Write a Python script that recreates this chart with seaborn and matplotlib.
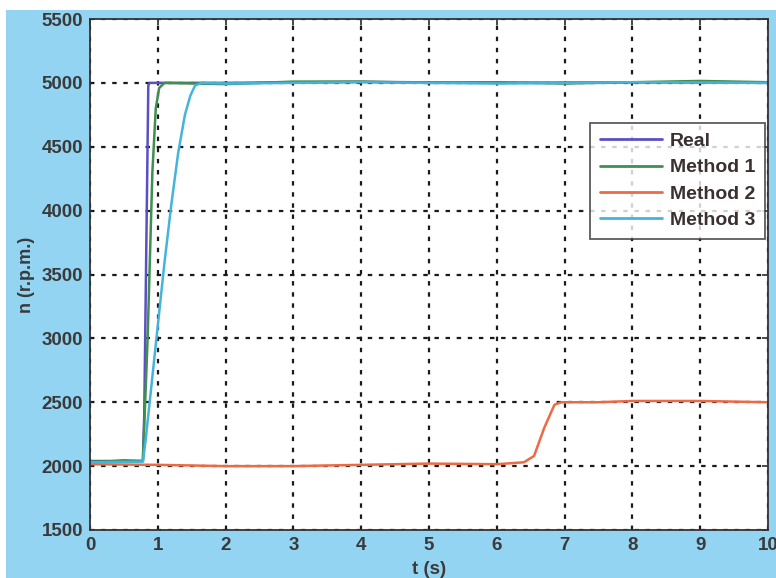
import numpy as np
import pandas as pd
import matplotlib
matplotlib.use("Agg")
import matplotlib.pyplot as plt
import seaborn as sns
from matplotlib.patches import Rectangle

# ---- data ----
t_real = [0, 0.3, 0.5, 0.78, 0.80, 0.86, 0.88, 2, 4, 6, 8, 10]
n_real = [2040, 2040, 2045, 2040, 2400, 4980, 5000, 5000, 5008, 5000, 5005, 5000]

t_m1 = [0, 0.78, 0.85, 0.92, 0.97, 1.02, 1.1, 2, 3, 4, 5, 6, 7, 8, 9, 10]
n_m1 = [2035, 2040, 3000, 4300, 4800, 4960, 5000, 4990, 5010, 5010, 5000, 5005, 4995, 5005, 5015, 5005]

t_m2 = [0, 1, 2, 3, 4, 5, 6, 6.4, 6.55, 6.7, 6.85, 6.95, 7.5, 8, 9, 9.5, 10]
n_m2 = [2015, 2010, 2000, 2000, 2010, 2020, 2015, 2030, 2080, 2300, 2480, 2500, 2500, 2510, 2510, 2505, 2500]

t_m3 = [0, 0.78, 0.82, 0.9, 1.0, 1.1, 1.2, 1.3, 1.4, 1.48, 1.55, 1.65, 2, 4, 6, 8, 10]
n_m3 = [2030, 2035, 2200, 2600, 3100, 3600, 4050, 4450, 4750, 4900, 4980, 5000, 4995, 5005, 4995, 5005, 5000]

series_names = ["Real", "Method 1", "Method 2", "Method 3"]
series_colors = ["#5a4fc4", "#3f8f4f", "#ec6a45", "#45b4dc"]
x_ticks = list(range(0, 11))
y_ticks = list(range(1500, 5501, 500))

frames = []
for name, t, n in zip(series_names, [t_real, t_m1, t_m2, t_m3], [n_real, n_m1, n_m2, n_m3]):
    frames.append(pd.DataFrame({"t": t, "n": n, "series": name}))
df = pd.concat(frames, ignore_index=True)

sns.set_theme(style="white")
plt.rcParams["font.family"] = ["Liberation Sans", "DejaVu Sans"]

bg = "#93d4f2"
fig = plt.figure(figsize=(7.76, 5.78), dpi=100, facecolor=bg)
# white strips at the top and left edges of the scan
fig.patches.append(Rectangle((0, 1 - 10 / 578), 1, 10 / 578, transform=fig.transFigure,
                             facecolor="white", edgecolor="none", zorder=-1))
fig.patches.append(Rectangle((0, 0), 6 / 776, 1, transform=fig.transFigure,
                             facecolor="white", edgecolor="none", zorder=-1))

ax = fig.add_axes([90 / 776, 1 - 530 / 578, (768 - 90) / 776, (530 - 19) / 578])
ax.set_facecolor("white")

sns.lineplot(data=df, x="t", y="n", hue="series", hue_order=series_names,
             palette=dict(zip(series_names, series_colors)), sort=False,
             estimator=None, linewidth=1.8, ax=ax)

ax.set_xlim(0, 10)
ax.set_ylim(1500, 5500)
ax.set_xticks(x_ticks)
ax.set_yticks(y_ticks)
ax.grid(True, color="#1a1a1a", linestyle=(0, (2, 3)), linewidth=1.6)
ax.set_axisbelow(True)
for s in ax.spines.values():
    s.set_color("#333333")
    s.set_linewidth(1.3)
ax.tick_params(direction="in", length=4, color="#333333", top=True, right=True,
               labelsize=13.5, labelcolor="#3a3a3a", pad=5)
for lab in ax.get_xticklabels() + ax.get_yticklabels():
    lab.set_fontweight("bold")

ax.set_xlabel("t (s)", fontsize=13.5, fontweight="bold", color="#3a3a3a", labelpad=5)
ax.set_ylabel("n (r.p.m.)", fontsize=13, fontweight="bold", color="#3a3a3a", labelpad=5)

leg = ax.legend(loc="upper right", bbox_to_anchor=(0.9956, 0.797), fontsize=14,
                frameon=True, fancybox=False, handlelength=3.2, borderpad=0.5,
                labelspacing=0.45, handletextpad=0.4, borderaxespad=0)
leg.get_frame().set_edgecolor("#333333")
leg.get_frame().set_linewidth(1.3)
for txt in leg.get_texts():
    txt.set_fontweight("bold")
    txt.set_color("#3a3030")
for h in leg.get_lines():
    h.set_linewidth(2)

fig.savefig("out.png", dpi=100, facecolor=bg)
